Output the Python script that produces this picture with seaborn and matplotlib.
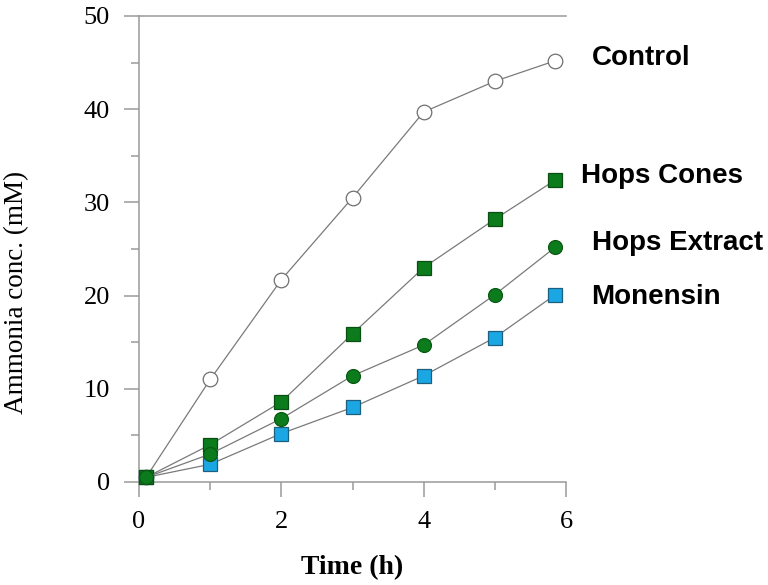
import matplotlib
matplotlib.use("Agg")
import matplotlib.pyplot as plt
import seaborn as sns
from matplotlib.ticker import MultipleLocator

# sampling times (h)
time_h = [0.1, 1, 2, 3, 4, 5, 5.85]

# ammonia concentration (mM)
control = [0.5, 11.0, 21.7, 30.5, 39.7, 43.0, 45.2]
monensin = [0.5, 1.9, 5.2, 8.0, 11.4, 15.5, 20.1]
hops_cones = [0.5, 4.0, 8.6, 15.9, 23.0, 28.2, 32.4]
hops_extract = [0.5, 3.0, 6.8, 11.4, 14.7, 20.1, 25.2]

series_names = ["Control", "Monensin", "Hops Cones", "Hops Extract"]

sns.set_style("ticks")
plt.rcParams["font.family"] = ["Liberation Serif", "DejaVu Serif"]
plt.rcParams["text.color"] = "black"
plt.rcParams["axes.labelcolor"] = "black"

fig = plt.figure(figsize=(7.68, 5.85), dpi=100)
ax = fig.add_axes([139 / 768, 1 - 482 / 585, 427 / 768, 466 / 585])

line_grey = "#7a7a7a"
spine_grey = "#9a9a9a"

styles = {
    "Control": dict(marker="o", ms=10.5, mfc="white", mec="#6f6f6f"),
    "Monensin": dict(marker="s", ms=10, mfc="#1ba6e4", mec="#1d5f7f"),
    "Hops Cones": dict(marker="s", ms=10, mfc="#0b7b1c", mec="#0a4f12"),
    "Hops Extract": dict(marker="o", ms=10, mfc="#0b7b1c", mec="#0a5a14"),
}
values = {"Control": control, "Monensin": monensin,
          "Hops Cones": hops_cones, "Hops Extract": hops_extract}

for name in series_names:
    st = styles[name]
    sns.lineplot(x=time_h, y=values[name], ax=ax, color=line_grey, linewidth=0.9,
                 marker=st["marker"], markersize=st["ms"],
                 markerfacecolor=st["mfc"], markeredgecolor=st["mec"],
                 markeredgewidth=0.9, clip_on=False, zorder=3)

# series labels at the right of the curves
label_pos = {"Control": (6.36, 45.5), "Hops Cones": (6.21, 32.85),
             "Hops Extract": (6.36, 25.65), "Monensin": (6.36, 19.9)}
for name, (lx, ly) in label_pos.items():
    ax.text(lx, ly, name, fontsize=20, fontweight="bold", va="center", ha="left",
            color="black", family=["Liberation Sans", "DejaVu Sans"], clip_on=False)

ax.set_xlim(0, 6)
ax.set_ylim(0, 50)
ax.xaxis.set_major_locator(MultipleLocator(2))
ax.xaxis.set_minor_locator(MultipleLocator(1))
ax.yaxis.set_major_locator(MultipleLocator(10))
ax.yaxis.set_minor_locator(MultipleLocator(5))

ax.spines["right"].set_visible(False)
for sp in ["left", "bottom", "top"]:
    ax.spines[sp].set_color(spine_grey)
    ax.spines[sp].set_linewidth(1.1)

ax.tick_params(which="major", direction="out", length=11, width=1.1, color=spine_grey,
               labelcolor="black", labelsize=19, pad=10, top=False, right=False)
ax.tick_params(which="minor", direction="out", length=6, width=1.1, color=spine_grey,
               top=False, right=False)

ax.set_xlabel("Time (h)", fontsize=20, fontweight="bold")
ax.set_ylabel("Ammonia conc. (mM)", fontsize=19.5)
ax.xaxis.set_label_coords(0.5, -0.157)
ax.yaxis.set_label_coords(-0.258, 0.406)

fig.savefig("out.png", dpi=100)
